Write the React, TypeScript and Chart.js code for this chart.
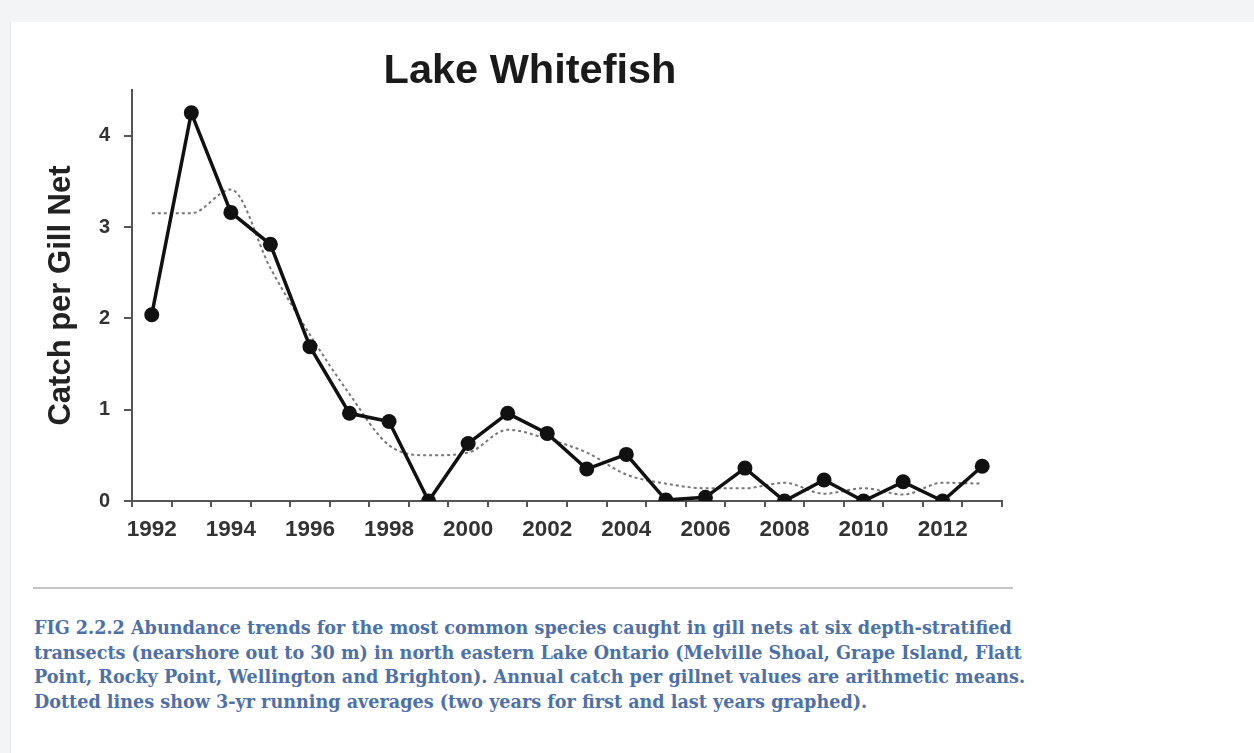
import { useEffect, useRef } from "react";
import { Chart, registerables } from "chart.js";

Chart.register(...registerables);

// Survey years on the category axis
const years = [
  "1992", "1993", "1994", "1995", "1996", "1997", "1998", "1999", "2000", "2001", "2002",
  "2003", "2004", "2005", "2006", "2007", "2008", "2009", "2010", "2011", "2012", "2013",
];

// Annual catch per gill net (arithmetic means)
const catchPerNet = [
  2.04, 4.25, 3.16, 2.81, 1.69, 0.96, 0.87, 0.0, 0.63, 0.96, 0.74,
  0.35, 0.51, 0.01, 0.04, 0.36, 0.0, 0.23, 0.0, 0.21, 0.0, 0.38,
];

// 3-yr running average (two-year average at the ends)
const runningAvg = [
  3.15, 3.15, 3.41, 2.55, 1.82, 1.17, 0.61, 0.5, 0.53, 0.78, 0.68,
  0.53, 0.29, 0.19, 0.14, 0.14, 0.2, 0.08, 0.14, 0.07, 0.2, 0.19,
];

// Labelled values on the catch axis
const yTicks = [0, 1, 2, 3, 4];

const captionLines = [
  "FIG 2.2.2 Abundance trends for the most common species caught in gill nets at six depth-stratified",
  "transects (nearshore out to 30 m) in north eastern Lake Ontario (Melville Shoal, Grape Island, Flatt",
  "Point, Rocky Point, Wellington and Brighton). Annual catch per gillnet values are arithmetic means.",
  "Dotted lines show 3-yr running averages (two years for first and last years graphed).",
];

const SANS = "'Liberation Sans', Arial, sans-serif";
const AXIS = "#555555";

export default function App() {
  const canvasRef = useRef<HTMLCanvasElement>(null);

  useEffect(() => {
    const canvas = canvasRef.current;
    if (!canvas) return;
    const chart = new Chart(canvas, {
      type: "line",
      data: {
        labels: years,
        datasets: [
          {
            label: "Catch per gill net",
            data: catchPerNet,
            borderColor: "#111111",
            backgroundColor: "#111111",
            borderWidth: 3.5,
            pointRadius: 7.5,
            pointBackgroundColor: "#111111",
            pointBorderWidth: 0,
            tension: 0,
            order: 0,
          },
          {
            label: "3-yr running average",
            data: runningAvg,
            borderColor: "#777777",
            borderWidth: 2,
            borderDash: [3, 3],
            pointRadius: 0,
            cubicInterpolationMode: "monotone",
            order: 1,
          },
        ],
      },
      options: {
        responsive: false,
        animation: false,
        layout: { padding: { left: 40, top: 90, right: 58, bottom: 9 } },
        plugins: {
          legend: { display: false },
          tooltip: { enabled: false },
          title: { display: false },
        },
        scales: {
          x: {
            type: "category",
            offset: true,
            grid: {
              offset: true,
              drawOnChartArea: false,
              drawTicks: true,
              tickLength: 6,
              color: AXIS,
              lineWidth: 2,
            },
            border: { display: true, color: AXIS, width: 2 },
            ticks: {
              autoSkip: false,
              maxRotation: 0,
              padding: 9,
              color: "#333333",
              font: { family: SANS, weight: "bold", size: 22.5 },
              callback: (_v: any, i: number) => (i % 2 === 0 ? years[i] : ""),
            },
            afterFit: (s: any) => {
              s.height = 50;
            },
          },
          y: {
            min: 0,
            max: 4.5,
            ticks: {
              stepSize: 1,
              padding: 14,
              color: "#333333",
              font: { family: SANS, weight: "bold", size: 20 },
            },
            afterBuildTicks: (s: any) => {
              s.ticks = s.ticks.filter((t: any) => yTicks.includes(t.value));
            },
            grid: {
              drawOnChartArea: false,
              drawTicks: true,
              tickLength: 8,
              color: AXIS,
              lineWidth: 2,
            },
            border: { display: true, color: AXIS, width: 2 },
            title: {
              display: true,
              text: "Catch per Gill Net",
              color: "#222222",
              font: { family: SANS, weight: "bold", size: 31 },
              padding: { top: 3, bottom: 0 },
            },
            afterFit: (s: any) => {
              s.width = 92;
            },
          },
        },
      },
    });
    return () => chart.destroy();
  }, []);

  return (
    <div
      style={{
        position: "absolute",
        left: 0,
        top: 0,
        width: 1254,
        height: 753,
        overflow: "hidden",
        background: "#ffffff",
      }}
    >
      <div style={{ position: "absolute", left: 0, top: 0, width: 1254, height: 22, background: "#f3f4f6" }} />
      <div
        style={{
          position: "absolute",
          left: 0,
          top: 22,
          width: 10,
          height: 731,
          background: "#f3f4f6",
          borderRight: "1px solid #e8e9eb",
        }}
      />
      <canvas
        ref={canvasRef}
        width={1060}
        height={560}
        style={{ position: "absolute", left: 0, top: 0, width: 1060, height: 560 }}
      />
      <div
        style={{
          position: "absolute",
          left: 330,
          top: 48,
          width: 400,
          textAlign: "center",
          font: `bold 41.5px ${SANS}`,
          lineHeight: "41.5px",
          color: "#1a1a1a",
          whiteSpace: "nowrap",
        }}
      >
        Lake Whitefish
      </div>
      <div style={{ position: "absolute", left: 33, top: 587, width: 980, height: 2, background: "#c5c5c5" }} />
      <div
        style={{
          position: "absolute",
          left: 34,
          top: 616,
          font: "bold 17.6px 'DejaVu Serif', serif",
          lineHeight: "24.6px",
          color: "#4d70a8",
        }}
      >
        {captionLines.map((line) => (
          <div key={line} style={{ whiteSpace: "nowrap" }}>
            {line}
          </div>
        ))}
      </div>
    </div>
  );
}
